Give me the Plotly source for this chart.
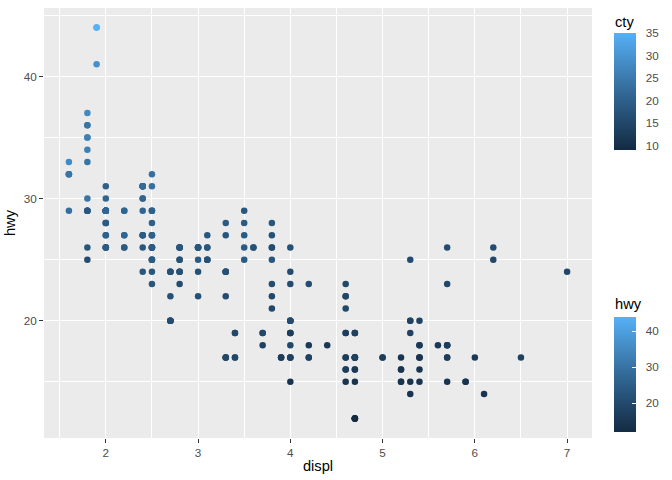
import plotly.graph_objects as go
import numpy as np

# mpg data: engine displacement, city mpg, highway mpg
displ = [1.8, 1.8, 2.0, 2.0, 2.8, 2.8, 3.1,
         1.8, 1.8, 2.0, 2.0, 2.8, 2.8, 3.1, 3.1,
         2.8, 3.1, 4.2,
         5.3, 5.3, 5.3, 5.7, 6.0,
         5.7, 5.7, 6.2, 6.2, 7.0,
         5.3, 5.3, 5.7, 6.5,
         2.4, 2.4, 3.1, 3.5, 3.6,
         2.4, 3.0, 3.3, 3.3, 3.3, 3.3, 3.3, 3.3, 3.8, 3.8, 3.8, 4.0,
         3.7, 3.7, 3.9, 3.9, 4.7, 4.7, 4.7, 5.2, 5.2,
         3.9, 4.7, 4.7, 4.7, 5.2, 5.7, 5.9,
         4.7, 4.7, 4.7, 4.7, 4.7, 4.7, 5.2, 5.2, 5.7, 5.9,
         4.6, 5.4, 5.4,
         4.0, 4.0, 4.0, 4.0, 4.6, 5.0,
         4.2, 4.2, 4.6, 4.6, 4.6, 5.4, 5.4,
         3.8, 3.8, 4.0, 4.0, 4.6, 4.6, 4.6, 4.6, 5.4,
         1.6, 1.6, 1.6, 1.6, 1.6, 1.8, 1.8, 1.8, 2.0,
         2.4, 2.4, 2.4, 2.4, 2.5, 2.5, 3.3,
         2.0, 2.0, 2.0, 2.0, 2.7, 2.7, 2.7,
         3.0, 3.7, 4.0, 4.7, 4.7, 4.7, 5.7, 6.1,
         4.0, 4.2, 4.4, 4.6,
         5.4, 5.4, 5.4,
         4.0, 4.0, 4.6, 5.0,
         2.4, 2.4, 2.5, 2.5, 3.5, 3.5,
         3.0, 3.0, 3.5,
         3.3, 3.3, 4.0, 5.6,
         3.1, 3.8, 3.8, 3.8, 5.3,
         2.5, 2.5, 2.5, 2.5, 2.5, 2.5,
         2.2, 2.2, 2.5, 2.5, 2.5, 2.5, 2.5, 2.5,
         2.7, 2.7, 3.4, 3.4, 4.0, 4.7,
         2.2, 2.2, 2.4, 2.4, 3.0, 3.0, 3.5,
         2.2, 2.2, 2.4, 2.4, 3.0, 3.0, 3.3,
         1.8, 1.8, 1.8, 1.8, 1.8,
         4.7, 5.7,
         2.7, 2.7, 2.7, 3.4, 3.4, 4.0, 4.0,
         2.0, 2.0, 2.0, 2.0, 2.8,
         1.9, 2.0, 2.0, 2.0, 2.0, 2.5, 2.5, 2.8, 2.8,
         1.9, 1.9, 2.0, 2.0, 2.5, 2.5,
         1.8, 1.8, 2.0, 2.0, 2.8, 2.8, 3.6]

cty = [18, 21, 20, 21, 16, 18, 18,
       18, 16, 20, 19, 15, 17, 17, 15,
       15, 17, 16,
       14, 11, 14, 13, 12,
       16, 15, 16, 15, 15,
       14, 11, 11, 14,
       19, 22, 18, 18, 17,
       18, 17, 16, 17, 17, 17, 17, 11, 15, 15, 16, 16,
       15, 14, 13, 14, 14, 14, 9, 11, 11,
       13, 13, 9, 13, 11, 13, 11,
       12, 9, 13, 13, 12, 9, 11, 11, 13, 11,
       11, 11, 12,
       14, 15, 14, 13, 13, 13,
       14, 14, 13, 13, 13, 11, 13,
       18, 18, 17, 16, 15, 15, 15, 15, 14,
       28, 24, 25, 23, 24, 26, 25, 24, 21,
       18, 18, 21, 21, 18, 18, 19,
       19, 19, 20, 20, 17, 16, 17,
       17, 15, 15, 14, 9, 14, 13, 11,
       11, 12, 12, 11,
       11, 11, 12,
       14, 13, 13, 13,
       21, 19, 23, 23, 19, 19,
       18, 19, 19,
       14, 15, 14, 12,
       18, 16, 17, 18, 16,
       18, 18, 20, 19, 20, 18,
       21, 19, 19, 19, 20, 20, 19, 20,
       15, 16, 15, 15, 16, 14,
       21, 21, 21, 21, 18, 18, 19,
       21, 21, 21, 22, 18, 18, 18,
       24, 24, 26, 28, 26,
       11, 13,
       15, 16, 17, 15, 15, 15, 16,
       21, 19, 21, 22, 17,
       33, 21, 19, 22, 21, 21, 21, 16, 17,
       35, 29, 21, 19, 20, 20,
       21, 18, 19, 21, 16, 18, 17]

hwy = [29, 29, 31, 30, 26, 26, 27,
       26, 25, 28, 27, 25, 25, 25, 25,
       24, 25, 23,
       20, 15, 20, 17, 17,
       26, 23, 26, 25, 24,
       19, 14, 15, 17,
       27, 30, 26, 29, 26,
       24, 24, 22, 24, 24, 24, 24, 17, 22, 21, 23, 23,
       19, 18, 17, 17, 19, 19, 12, 17, 15,
       17, 17, 12, 17, 16, 18, 15,
       16, 12, 17, 17, 16, 12, 15, 16, 17, 15,
       17, 17, 18,
       17, 19, 17, 19, 19, 17,
       17, 17, 16, 16, 17, 15, 17,
       26, 25, 26, 24, 21, 22, 23, 22, 20,
       33, 32, 32, 29, 32, 34, 36, 36, 29,
       26, 27, 30, 31, 26, 26, 28,
       26, 29, 28, 27, 24, 24, 24,
       22, 19, 20, 17, 12, 19, 18, 14,
       15, 18, 18, 15,
       17, 16, 18,
       17, 19, 19, 17,
       29, 27, 31, 32, 27, 26,
       26, 25, 25,
       17, 17, 20, 18,
       26, 26, 27, 28, 25,
       25, 24, 27, 25, 26, 23,
       26, 26, 26, 26, 27, 25, 25, 27,
       20, 20, 19, 17, 20, 17,
       29, 27, 31, 31, 26, 26, 28,
       27, 29, 31, 31, 26, 26, 27,
       30, 33, 35, 37, 35,
       15, 18,
       20, 20, 22, 17, 19, 18, 20,
       29, 26, 29, 29, 24,
       44, 29, 26, 29, 29, 29, 29, 23, 24,
       44, 41, 29, 26, 28, 29,
       29, 29, 28, 29, 26, 26, 26]

x_ticks = [2, 3, 4, 5, 6, 7]
y_ticks = [20, 30, 40]
cty_ticks = [10, 15, 20, 25, 30, 35]
hwy_ticks = [20, 30, 40]


# ggplot2 default continuous gradient (#132B43 -> #56B1F7), interpolated in CIELab
def hex2rgb(h):
    h = h.lstrip('#')
    return np.array([int(h[i:i + 2], 16) / 255 for i in (0, 2, 4)])


def srgb2lin(c):
    return np.where(c <= 0.04045, c / 12.92, ((c + 0.055) / 1.055) ** 2.4)


def lin2srgb(c):
    return np.where(c <= 0.0031308, c * 12.92, 1.055 * np.power(np.clip(c, 0, None), 1 / 2.4) - 0.055)


M = np.array([[0.4124, 0.3576, 0.1805], [0.2126, 0.7152, 0.0722], [0.0193, 0.1192, 0.9505]])
Mi = np.linalg.inv(M)
WP = np.array([0.95047, 1.0, 1.08883])


def f(t):
    return np.where(t > (6 / 29) ** 3, np.cbrt(t), t / (3 * (6 / 29) ** 2) + 4 / 29)


def fi(t):
    return np.where(t > 6 / 29, t ** 3, 3 * (6 / 29) ** 2 * (t - 4 / 29))


def rgb2lab(c):
    xyz = M @ srgb2lin(c) / WP
    fx, fy, fz = f(xyz)
    return np.array([116 * fy - 16, 500 * (fx - fy), 200 * (fy - fz)])


def lab2rgb(lab):
    L, a, b = lab
    fy = (L + 16) / 116
    fx = fy + a / 500
    fz = fy - b / 200
    xyz = np.array([fi(fx), fi(fy), fi(fz)]) * WP
    return np.clip(lin2srgb(Mi @ xyz), 0, 1)


lo, hi = rgb2lab(hex2rgb('#132B43')), rgb2lab(hex2rgb('#56B1F7'))
cscale = []
for t in np.linspace(0, 1, 11):
    r, g, b = (lab2rgb(lo + (hi - lo) * t) * 255).round().astype(int)
    cscale.append([float(t), f'rgb({r},{g},{b})'])

FONT = 'Liberation Sans, Arial, sans-serif'
TICKC = '#4D4D4D'
PL, PR, PT, PB = 44, 80, 8, 42
PH = 480 - PT - PB
PW = 672 - PL - PR


def py(px):  # pixel y from top -> paper fraction
    return (480 - PB - px) / PH


CBX = (614 - PL) / PW
fig = go.Figure()
# invisible traces carrying the colour legends (white inner tick marks + labelled copies)
for vals, ca in [(hwy, 'coloraxis2'), (cty, 'coloraxis3'), (hwy, 'coloraxis4')]:
    fig.add_trace(go.Scatter(
        x=displ, y=hwy, mode='markers', hoverinfo='skip', showlegend=False,
        marker=dict(size=6, opacity=0, color=vals, coloraxis=ca)))
fig.add_trace(go.Scatter(
    x=displ, y=hwy, mode='markers', showlegend=False,
    marker=dict(size=6.5, color=cty, coloraxis='coloraxis', line=dict(width=0))))

title_font = dict(family=FONT, size=14.7, color='black')
cb_common = dict(thickness=22, thicknessmode='pixels', lenmode='pixels',
                 xanchor='left', yanchor='top', xpad=0, ypad=0, x=CBX,
                 outlinewidth=0, tickfont=dict(family=FONT, size=11.7, color=TICKC))
lab_cb = dict(ticks='outside', ticklen=8, tickcolor='rgba(0,0,0,0)')
tick_cb = dict(ticks='inside', ticklen=4, tickcolor='white', tickwidth=1, showticklabels=False)

cty_pos = dict(y=py(33), len=117)
hwy_pos = dict(y=py(317), len=115)

fig.update_layout(
    width=672, height=480,
    margin=dict(l=PL, r=PR, t=PT, b=PB, autoexpand=False),
    paper_bgcolor='white', plot_bgcolor='#EBEBEB',
    font=dict(family=FONT, color='black'),
    coloraxis=dict(colorscale=cscale, cmin=min(cty), cmax=max(cty),
                   colorbar=dict(**cb_common, **cty_pos, **lab_cb, tickvals=cty_ticks)),
    coloraxis3=dict(colorscale=cscale, cmin=min(cty), cmax=max(cty),
                    colorbar=dict(**cb_common, **cty_pos, **tick_cb, tickvals=cty_ticks)),
    coloraxis2=dict(colorscale=cscale, cmin=min(hwy), cmax=max(hwy),
                    colorbar=dict(**cb_common, **hwy_pos, **lab_cb, tickvals=hwy_ticks)),
    coloraxis4=dict(colorscale=cscale, cmin=min(hwy), cmax=max(hwy),
                    colorbar=dict(**cb_common, **hwy_pos, **tick_cb, tickvals=hwy_ticks)),
    annotations=[
        dict(text='cty', xref='paper', yref='paper', x=CBX, y=py(22), xanchor='left', yanchor='middle',
             showarrow=False, font=title_font, xshift=-1),
        dict(text='hwy', xref='paper', yref='paper', x=CBX, y=py(304), xanchor='left', yanchor='middle',
             showarrow=False, font=title_font, xshift=-1),
    ],
    xaxis=dict(range=[1.33, 7.27], tickvals=x_ticks, showgrid=True, gridcolor='white', gridwidth=1.1,
               minor=dict(dtick=0.5, showgrid=True, gridcolor='white', gridwidth=0.5),
               zeroline=False, ticks='outside', ticklen=4, tickcolor='#333333', tickwidth=1,
               automargin=False,
               tickfont=dict(family=FONT, size=11.7, color=TICKC),
               title=dict(text='displ', font=title_font, standoff=2)),
    yaxis=dict(range=[10.4, 45.6], tickvals=y_ticks, showgrid=True, gridcolor='white', gridwidth=1.1,
               minor=dict(dtick=5, tick0=0, showgrid=True, gridcolor='white', gridwidth=0.5),
               zeroline=False, ticks='outside', ticklen=4, tickcolor='#333333', tickwidth=1,
               automargin=False,
               tickfont=dict(family=FONT, size=11.7, color=TICKC),
               title=dict(text='hwy', font=title_font, standoff=4)),
)

fig.write_html('out.html', config={'displayModeBar': False},
               post_script="document.body.style.margin='0';")
